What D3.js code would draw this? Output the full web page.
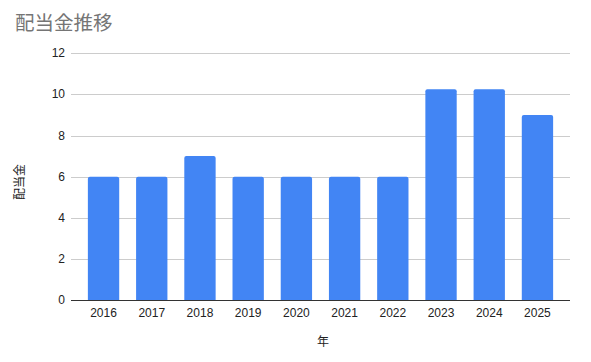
<!DOCTYPE html>
<html><head><meta charset="utf-8">
<script src="https://cdn.jsdelivr.net/npm/d3@7"></script>
<style>body{margin:0;background:#fff}svg{display:block;font-family:"Liberation Sans",Arial,"Noto Sans CJK JP",sans-serif}</style>
</head><body>
<script>
const years = ["2016","2017","2018","2019","2020","2021","2022","2023","2024","2025"];
const dividends = [6,6,7,6,6,6,6,10.25,10.25,9];
const yTicks = [0,2,4,6,8,10,12];
const title = "配当金推移";
const xTitle = "年";
const yTitle = "配当金";

const W=591,H=362;
const svg=d3.select("body").append("svg").attr("width",W).attr("height",H);
const pLeft=71,pRight=570,pTop=53.3,pBottom=300;
const x=d3.scaleBand().domain(years).range([pLeft,pRight]).paddingInner(0.35).paddingOuter(0.35);
const y=d3.scaleLinear().domain([0,12]).range([pBottom,pTop]);

svg.append("text").attr("x",15).attr("y",30).attr("font-size",19.5).attr("fill","#757575")
  .attr("font-family","'Noto Sans CJK JP',sans-serif").text(title);

const g=svg.append("g");
g.selectAll("line.grid").data(yTicks.filter(d=>d>0)).join("line")
  .attr("x1",pLeft).attr("x2",pRight).attr("y1",d=>Math.round(y(d))+0.5).attr("y2",d=>Math.round(y(d))+0.5)
  .attr("stroke","#cccccc").attr("stroke-width",1);
g.selectAll("text.yt").data(yTicks).join("text")
  .attr("x",65).attr("y",d=>y(d)+4).attr("text-anchor","end").attr("font-size",12).attr("fill","#222").text(d=>d);

const r=2;
g.selectAll("path.bar").data(dividends).join("path")
  .attr("fill","#4285f4")
  .attr("d",(d,i)=>{
    const x0=x(years[i]),w=x.bandwidth(),y0=y(d),y1=y(0);
    return `M${x0},${y1}V${y0+r}Q${x0},${y0} ${x0+r},${y0}H${x0+w-r}Q${x0+w},${y0} ${x0+w},${y0+r}V${y1}Z`;
  });

g.append("line").attr("x1",pLeft).attr("x2",pRight).attr("y1",pBottom+0.5).attr("y2",pBottom+0.5).attr("stroke","#333").attr("stroke-width",1);

g.selectAll("text.xt").data(years).join("text")
  .attr("x",d=>x(d)+x.bandwidth()/2).attr("y",317).attr("text-anchor","middle").attr("font-size",12).attr("fill","#222").text(d=>d);

svg.append("text").attr("x",323).attr("y",346).attr("text-anchor","middle").attr("font-size",12).attr("fill","#222")
  .attr("font-family","'Noto Sans CJK JP',sans-serif").text(xTitle);
svg.append("text").attr("transform","translate(24,182) rotate(-90)").attr("text-anchor","middle").attr("font-size",12).attr("fill","#222")
  .attr("font-family","'Noto Sans CJK JP',sans-serif").text(yTitle);
</script>
</body></html>
